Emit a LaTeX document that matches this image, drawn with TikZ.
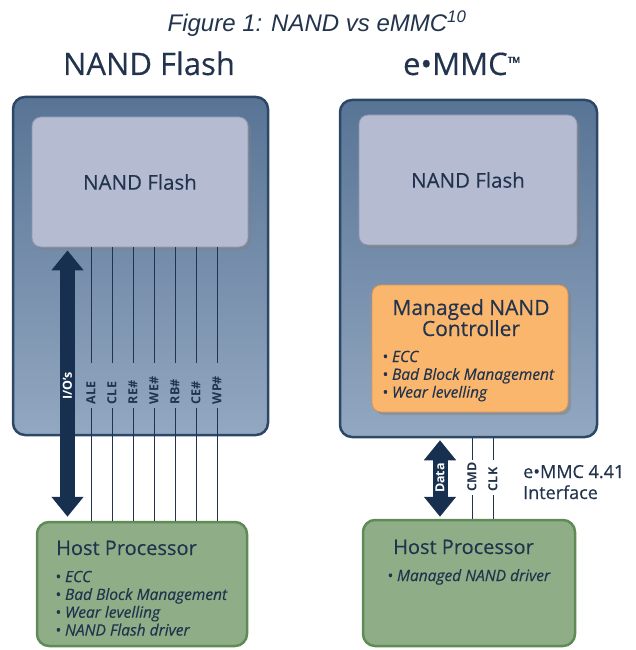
\documentclass[tikz,border=0pt]{standalone}
\usepackage{fontspec}
\setmainfont{Open Sans}[UprightFeatures={FakeBold=0.35},ItalicFeatures={FakeBold=0.35}]
\newfontfamily\capfont{Liberation Sans}
\usetikzlibrary{shadows,arrows.meta,calc}
\definecolor{ink}{HTML}{22344D}
\definecolor{frame}{HTML}{2D4767}
\definecolor{bluetop}{HTML}{587495}
\definecolor{bluebot}{HTML}{93A8C1}
\definecolor{chipfill}{HTML}{B5BBD1}
\definecolor{chipedge}{HTML}{8D95B0}
\definecolor{ctrlfill}{HTML}{FBB66E}
\definecolor{ctrledge}{HTML}{D9944F}
\definecolor{hostfill}{HTML}{8FAE87}
\definecolor{hostedge}{HTML}{5E8B56}
\definecolor{busblue}{HTML}{17304F}

\begin{document}
\begin{tikzpicture}[x=1pt,y=-1pt,text=ink,
    outerbox/.style={draw=frame,line width=2.5pt,rounded corners=12pt,top color=bluetop,bottom color=bluebot},
    chip/.style={fill=chipfill,draw=chipedge,line width=0.8pt,rounded corners=9pt,
      drop shadow={opacity=0.45,shadow xshift=3pt,shadow yshift=-3pt},font=\fontsize{20.5}{24}\selectfont},
    ctrl/.style={chip,fill=ctrlfill,draw=ctrledge},
    hostbox/.style={fill=hostfill,draw=hostedge,line width=2.5pt,rounded corners=12pt},
    head/.style={anchor=base,font=\fontsize{31}{36}\selectfont},
    boxtitle/.style={anchor=base west,inner sep=0pt,font=\fontsize{20}{24}\selectfont},
    items/.style={anchor=base west,align=left,inner sep=0pt,font=\itshape\fontsize{15.5}{17.8}\selectfont},
    wire/.style={draw=ink,line width=1pt},
    bus/.style={draw=busblue,line width=15pt,{Triangle[width=31pt,length=20pt]}-{Triangle[width=31pt,length=20pt]}},
    siglbl/.style={rotate=90,align=left,inner sep=4pt,font=\bfseries\fontsize{12.5}{14}\selectfont},
    buslbl/.style={rotate=90,text=white,inner sep=0pt,font=\bfseries\fontsize{12.5}{13}\selectfont}]
  \useasboundingbox (0,0) rectangle (635,650);

  \node[font=\capfont\itshape\fontsize{24}{28}\selectfont,anchor=base] (title) at (317,32) {Figure 1: NAND vs eMMC\textsuperscript{10}};
  \node[head] (headL) at (149,75) {NAND Flash};
  \node[head] (headR) at (462,75) {e•MMC{\fontsize{17}{17}\selectfont\raisebox{6pt}{™}}};

  % raw NAND: host drives every signal
  \node[outerbox,minimum width=255pt,minimum height=338pt] (devL) at (140.5,266) {};
  \node[chip,minimum width=216pt,minimum height=130pt] (nandL) at (140,182) {NAND Flash};
  \node[hostbox,minimum width=210pt,minimum height=124pt] (hostL) at (142,584) {};
  \node[boxtitle] (hostLt) at (56,555) {Host Processor};
  \node[items] (hostLl) at (55,635.5) {• ECC\\• Bad Block Management\\• Wear levelling\\• NAND Flash driver};

  \coordinate (iobus) at (67.5,386);
  \draw[bus,shorten <=3pt,shorten >=4pt] (iobus |- nandL.south) -- (iobus |- hostL.north);
  \node[buslbl] (io) at (iobus) {I/O's};

  \foreach \sig [count=\i] in {ALE,CLE,RE\#,WE\#,RB\#,CE\#,WP\#}{
    \node[siglbl,text width=37pt] (s\i) at (70+21*\i,385.5) {\sig};
    \draw[wire] (s\i.east) -- (s\i.east |- nandL.south);
    \draw[wire] (s\i.west) -- (s\i.west |- hostL.north);}

  % e-MMC: controller sits inside the package
  \node[outerbox,minimum width=257pt,minimum height=337pt] (devR) at (468.5,268.5) {};
  \node[chip,minimum width=218pt,minimum height=130pt] (nandR) at (468,180) {NAND Flash};
  \node[ctrl,minimum width=196pt,minimum height=127pt] (ctrl) at (470,348.5) {};
  \node[anchor=base,align=center,inner sep=0pt,font=\fontsize{21}{21}\selectfont] (ctrlt) at (471,336) {Managed NAND\\Controller};
  \node[items] (ctrll) at (382,397.6) {• ECC\\• Bad Block Management\\• Wear levelling};
  \node[hostbox,minimum width=212pt,minimum height=126pt] (hostR) at (469,583) {};
  \node[boxtitle] (hostRt) at (393,554) {Host Processor};
  \node[items] (hostRl) at (387,581) {• Managed NAND driver};

  \coordinate (databus) at (440,478);
  \draw[bus,shorten <=2pt,shorten >=2pt] (databus |- devR.south) -- (databus |- hostR.north);
  \node[buslbl] (data) at (databus) {Data};

  \foreach \sig/\x [count=\i] in {CMD/472,CLK/493}{
    \node[siglbl,text width=27pt] (c\i) at (\x,477.5) {\sig};
    \draw[wire] (c\i.east) -- (c\i.east |- devR.south);
    \draw[wire] (c\i.west) -- (c\i.west |- hostR.north);}

  \node[anchor=base west,align=left,inner sep=0pt,font=\fontsize{18}{21}\selectfont] (iface) at (523,499) {e•MMC 4.41\\Interface};
\end{tikzpicture}
\end{document}
